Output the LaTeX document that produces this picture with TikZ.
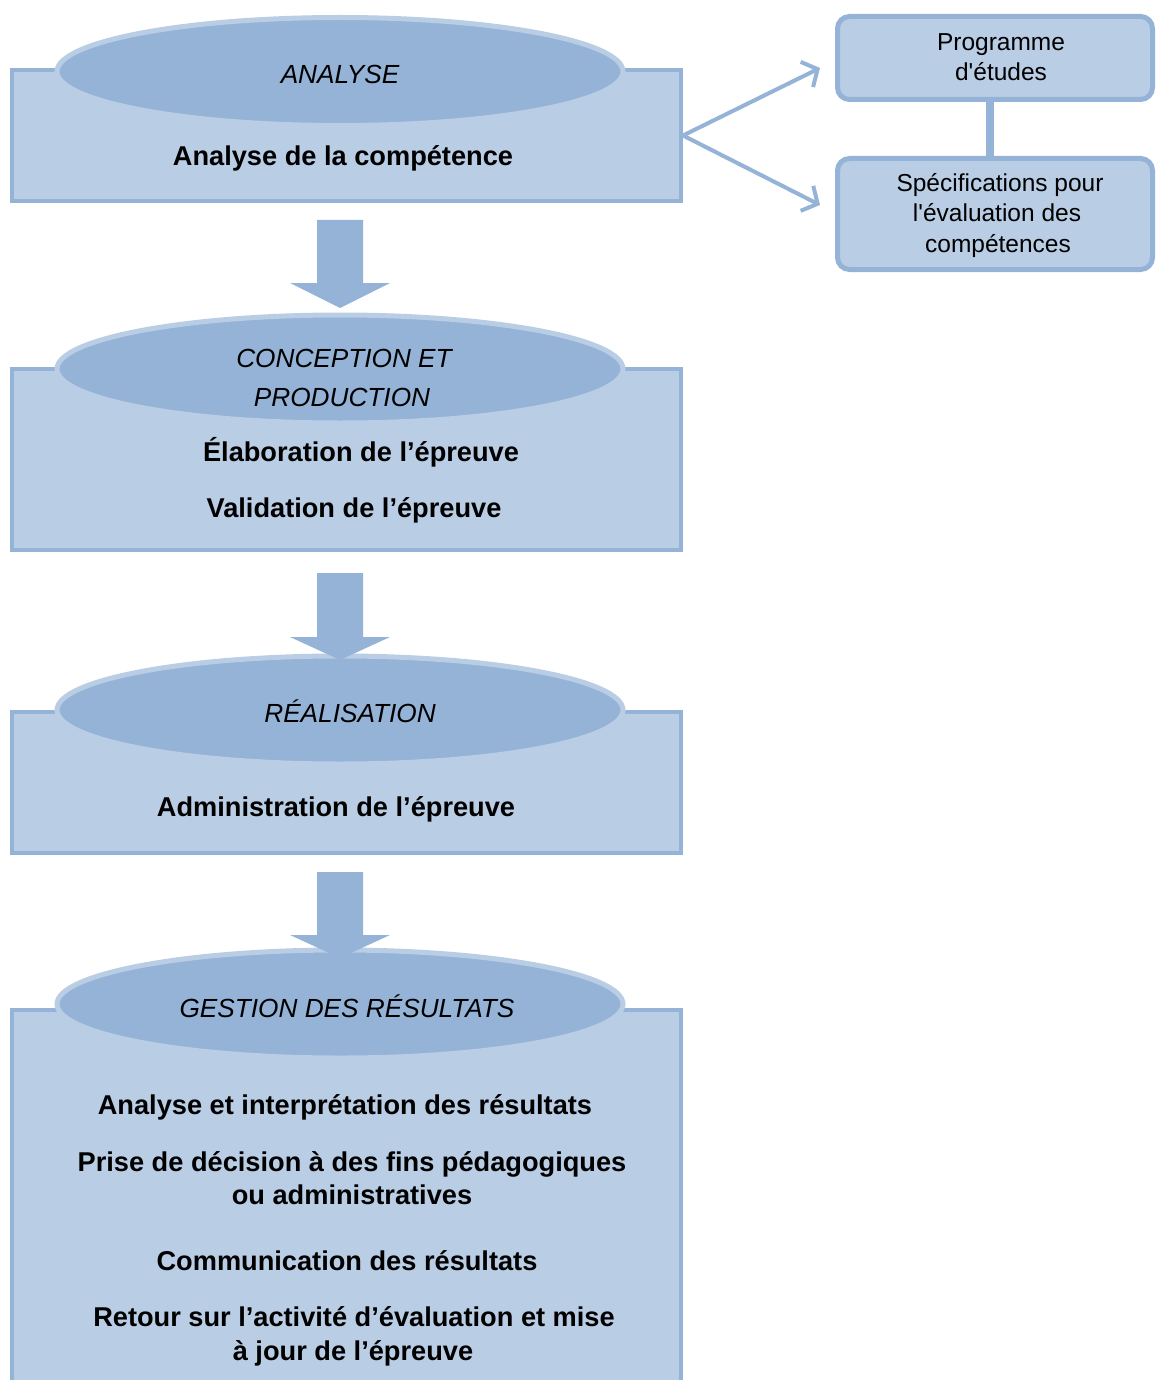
\documentclass[tikz,border=0pt]{standalone}
\usepackage{fontspec}
\setmainfont{Liberation Sans}
\newfontfamily\sidefont{Liberation Sans}
\usetikzlibrary{shapes.geometric,arrows.meta,calc}
\definecolor{bfill}{HTML}{B9CDE5}
\definecolor{bdark}{HTML}{95B3D7}
\tikzset{
  panel/.style={draw=bdark, fill=bfill, line width=4pt, minimum width=669pt, inner sep=0pt},
  capell/.style={ellipse, draw=bfill, fill=bdark, line width=5pt, minimum width=566pt, minimum height=108pt, inner sep=0pt},
  side/.style={draw=bdark, fill=bfill, line width=5pt, rounded corners=12pt, minimum width=315pt, inner sep=0pt},
  bt/.style={anchor=base, inner sep=0pt, font=\fontsize{27.2}{30}\selectfont\bfseries},
  et/.style={anchor=base, inner sep=0pt, font=\fontsize{26.2}{30}\selectfont\itshape},
  st/.style={anchor=base, inner sep=0pt, font=\sidefont\fontsize{24.5}{30}\selectfont},
  conn/.style={draw=bdark, line width=4pt, -{Straight Barb[length=12pt,width=28pt,line width=4pt]}},
  blk/.style={fill=bdark}
}
\begin{document}
\begin{tikzpicture}[x=1pt,y=-1pt]
\useasboundingbox (0,0) rectangle (1156,1380);
\clip (0,0) rectangle (1156,1380);
\fill[white] (0,0) rectangle (1156,1380);

% panels
\node[panel, minimum height=131pt] (r1) at (346.5,135.5) {};
\node[panel, minimum height=181pt] (r2) at (346.5,459.5) {};
\node[panel, minimum height=141pt] (r3) at (346.5,782.5) {};
\node[panel, minimum height=390pt] (r4) at (346.5,1205) {};

% caps
\node[capell] (c1) at (340,71.5) {};
\node[capell] (c2) at (340,369) {};
\node[capell] (c3) at (340,710) {};
\node[capell] (c4) at (340,1004) {};

% cap labels
\node[et] (l1) at (340,84) {ANALYSE};
\node[et] (l2a) at (344,367) {CONCEPTION ET};
\node[et] (l2b) at (342,406) {PRODUCTION};
\node[et] (l3) at (350,722) {RÉALISATION};
\node[et] (l4) at (347,1017) {GESTION DES RÉSULTATS};

% panel texts
\node[bt] (t1) at (343,166) {Analyse de la compétence};
\node[bt] (t2a) at (361,461) {Élaboration de l’épreuve};
\node[bt] (t2b) at (354,517) {Validation de l’épreuve};
\node[bt] (t3) at (336,816) {Administration de l’épreuve};
\node[bt] (t4a) at (345,1114) {Analyse et interprétation des résultats};
\node[bt] (t4b) at (352,1171) {Prise de décision à des fins pédagogiques};
\node[bt] (t4c) at (352,1204) {ou administratives};
\node[bt] (t4d) at (347,1270) {Communication des résultats};
\node[bt] (t4e) at (354,1326) {Retour sur l’activité d’évaluation et mise};
\node[bt] (t4f) at (353,1360) {à jour de l’épreuve};

% block arrows
\fill[blk] (317,220) -- (363,220) -- (363,283) -- (390,283) -- (340,308) -- (290,283) -- (317,283) -- cycle;
\fill[blk] (317,573) -- (363,573) -- (363,637) -- (390,637) -- (340,660) -- (290,637) -- (317,637) -- cycle;
\fill[blk] (317,872) -- (363,872) -- (363,935) -- (390,935) -- (340,958) -- (290,935) -- (317,935) -- cycle;

% side boxes
\node[side, minimum height=83pt] (p) at (995,58) {};
\node[side, minimum height=111pt] (s) at (995,214) {};
\draw[draw=bdark, line width=8pt] ([xshift=-5pt]p.south) -- ([xshift=-5pt]s.north);
\node[st] (pt1) at (1001,51) {Programme};
\node[st] (pt2) at (1001,81) {d'études};
\node[st] (st1) at (1000,192) {Spécifications pour};
\node[st] (st2) at (997,222) {l'évaluation des};
\node[st] (st3) at (998,252) {compétences};

% connectors
\coordinate (e1) at (820,68);
\coordinate (e2) at (820,205);
\draw[conn] (r1.east) -- (e1);
\draw[conn] (r1.east) -- (e2);
\end{tikzpicture}
\end{document}
